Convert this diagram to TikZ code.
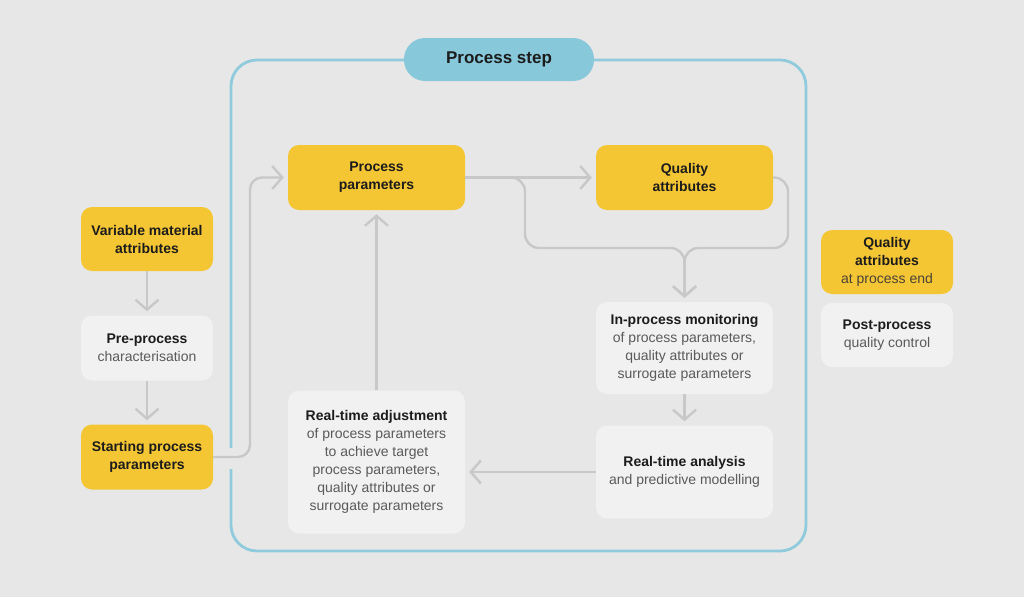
\documentclass[tikz,border=0pt]{standalone}
\usepackage{fontspec}
\setmainfont{Liberation Sans}
\usetikzlibrary{arrows.meta}
\definecolor{bgc}{HTML}{E7E7E7}
\definecolor{yel}{HTML}{F5C634}
\definecolor{lbox}{HTML}{F1F1F1}
\definecolor{frm}{HTML}{8FCBDC}
\definecolor{pill}{HTML}{88C8DB}
\definecolor{gln}{HTML}{C8C8C8}
\definecolor{dk}{HTML}{1C1C1C}
\definecolor{gt}{HTML}{5A5A5A}
\definecolor{yt}{HTML}{4A4236}
\tikzset{
  box/.style={rounded corners=11pt, draw=none, align=center, inner sep=2pt,
    font=\fontsize{14}{18}\selectfont, text=dk},
  ybox/.style={box, fill=yel},
  gbox/.style={box, fill=lbox},
  conn/.style={draw=gln, line width=2.4pt, line join=round,
    -{Straight Barb[length=10pt,width=23pt,line width=2.4pt]}, shorten >=4pt},
}
\begin{document}
\begin{tikzpicture}[x=1pt,y=-1pt]
\fill[bgc] (0,0) rectangle (1024,597);
\useasboundingbox (0,0) rectangle (1024,597);
% frame
\draw[frm, line width=2.8pt, rounded corners=26pt] (231,60) rectangle (806,551);
\fill[bgc] (225,448) rectangle (237,469);
\node[fill=pill, rounded corners=21pt, minimum width=190pt, minimum height=43pt,
  font=\fontsize{17}{20}\selectfont\bfseries, text=dk] (ps) at (499,59.5) {Process step};
% left column
\node[ybox, minimum width=132pt, minimum height=64pt] (vma) at (147,239)
  {\textbf{Variable material}\\\textbf{attributes}};
\node[gbox, minimum width=132pt, minimum height=65pt] (pre) at (147,348)
  {\textbf{Pre-process}\\\textcolor{gt}{characterisation}};
\node[ybox, minimum width=132pt, minimum height=65pt] (spp) at (147,457)
  {\textbf{Starting process}\\\textbf{parameters}};
% inside
\node[ybox, minimum width=177pt, minimum height=65pt] (pp) at (376.5,177.5)
  {\textbf{Process}\\\textbf{parameters}};
\node[ybox, minimum width=177pt, minimum height=65pt] (qa) at (684.5,177.5)
  {\textbf{Quality}\\\textbf{attributes}};
\node[gbox, minimum width=177pt, minimum height=92pt] (ipm) at (684.5,348)
  {\textbf{In-process monitoring}\\\textcolor{gt}{of process parameters,}\\\textcolor{gt}{quality attributes or}\\\textcolor{gt}{surrogate parameters}};
\node[gbox, minimum width=177pt, minimum height=93pt] (rta) at (684.5,472)
  {\textbf{Real-time analysis}\\\textcolor{gt}{and predictive modelling}};
\node[gbox, minimum width=177pt, minimum height=143pt] (adj) at (376.5,462)
  {\textbf{Real-time adjustment}\\\textcolor{gt}{of process parameters}\\\textcolor{gt}{to achieve target}\\\textcolor{gt}{process parameters,}\\\textcolor{gt}{quality attributes or}\\\textcolor{gt}{surrogate parameters}};
% right column
\node[ybox, minimum width=132pt, minimum height=64pt] (qae) at (887,262)
  {\textbf{Quality}\\\textbf{attributes}\\\textcolor{yt}{at process end}};
\node[gbox, minimum width=132pt, minimum height=64pt] (post) at (887,335)
  {\textbf{Post-process}\\\textcolor{gt}{quality control}};
% connectors
\draw[conn] (vma.south) -- (pre.north);
\draw[conn] (pre.south) -- (spp.north);
\draw[conn, rounded corners=12pt] (spp.east) -- (250,457) -- (250,177.5) -- (pp.west);
\draw[conn] (pp.east) -- (qa.west);
\coordinate (jn) at (684.5,248);
\draw[conn, rounded corners=14pt] (pp.east) -- (525,177.5) -- (525,248) -- (jn) -- (ipm.north);
\draw[conn, rounded corners=14pt] (qa.east) -- (788,177.5) -- (788,248) -- (jn) -- (ipm.north);
\draw[conn] (ipm.south) -- (rta.north);
\draw[conn] (rta.west) -- (rta.west -| adj.east);
\draw[conn] (adj.north) -- (pp.south);
\end{tikzpicture}
\end{document}
